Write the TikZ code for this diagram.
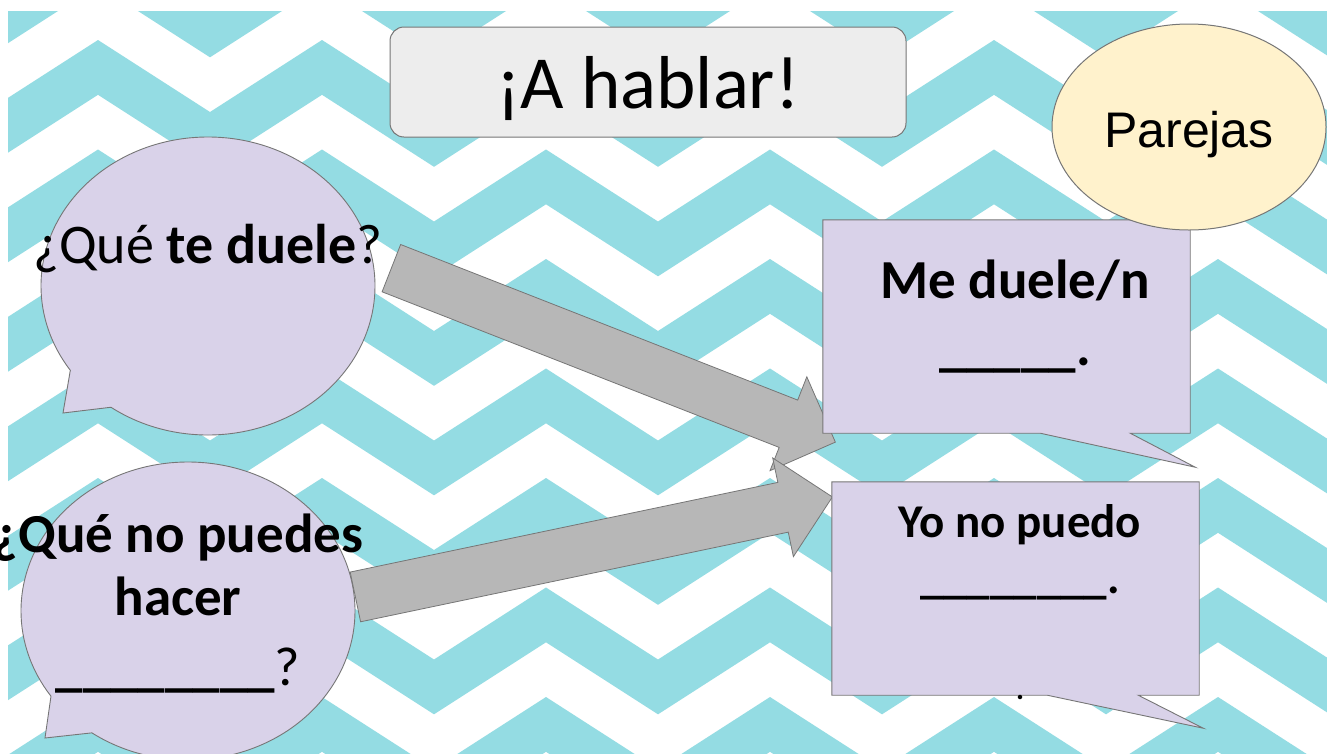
\documentclass[tikz,border=0pt]{standalone}
\usepackage{fontspec}
\setmainfont{Carlito}
\newfontfamily\arialfont{Liberation Sans}
\usetikzlibrary{positioning,calc,shapes.geometric,shapes.arrows,shapes.callouts}
\definecolor{cteal}{RGB}{148,220,227}
\definecolor{clav}{RGB}{217,210,233}
\definecolor{cyell}{RGB}{255,242,204}
\definecolor{cpanel}{RGB}{237,237,237}
\definecolor{carrow}{RGB}{183,183,183}
\definecolor{cedge}{RGB}{118,118,118}

% block arrow from one named point to another
\newcommand{\blockarrow}[2]{%
  \path let \p1=($(#2)-(#1)$), \n1={atan2(\y1,\x1)}, \n2={veclen(\x1,\y1)} in
    node[bigarrow, rotate=\n1, minimum height=\n2, anchor=tail] (#1-#2) at (#1) {};}

\begin{document}
\begin{tikzpicture}[x=1pt, y=-1pt,
    chevron/.style={draw=cteal, line width=46.1pt, line join=miter, miter limit=4},
    titlebox/.style={draw=cedge, fill=cpanel, rounded corners=14pt, line width=1pt,
                     minimum width=516pt, minimum height=110pt, font=\fontsize{75}{80}\selectfont},
    pairs/.style={ellipse, draw=cedge, fill=cyell, line width=1pt, inner sep=0pt,
                  minimum width=274pt, minimum height=206pt, font=\arialfont\fontsize{50}{55}\selectfont},
    bubble/.style={ellipse callout, draw=cedge, fill=clav, line width=0.9pt, inner sep=0pt,
                   minimum width=334pt, minimum height=298pt, callout pointer arc=20},
    boxarea/.style={minimum width=367pt, minimum height=213pt, inner sep=0pt},
    boxcall/.style={draw=cedge, fill=clav, line width=0.9pt},
    bigarrow/.style={single arrow, draw=cedge, fill=carrow, line width=0.8pt, inner xsep=0pt,
                     inner ysep=25pt, minimum width=100pt, single arrow head extend=25pt,
                     single arrow tip angle=90},
    qtext/.style={font=\fontsize{56}{66}\selectfont, inner sep=0pt, anchor=base},
    qbold/.style={font=\fontsize{55}{66}\selectfont\bfseries, inner sep=0pt, anchor=base},
    sbold/.style={font=\fontsize{47}{56}\selectfont\bfseries, inner sep=0pt, anchor=base}
  ]
  \useasboundingbox (0,0) rectangle (1327,753);

  % Background
  \fill[white] (0,0) rectangle (1327,753);
  \begin{scope}
    \clip (8,11) rectangle (1327,753);
    \foreach \k in {-1,...,6}
      \draw[chevron] (-126,{67.4+109.5*\k})
        foreach \j in {1,...,15} { -- ({-126+112*\j},{67.4+109.5*\k+72*mod(\j,2)}) };
  \end{scope}

  % Title
  \node[titlebox, text height=64pt, text depth=12pt] (title) at (648,82) {¡A hablar!};

  % Questions
  \node[bubble, callout absolute pointer={(63,413)}] (hurt) at (208,286) {};
  \node[qtext] (hurtq) at (208,263) {¿Qué \textbf{te duele}?};

  \node[bubble, callout absolute pointer={(45,738)}] (cant) at (188,611) {};
  \node[qbold] (cant1) at (178,552) {¿Qué no puedes};
  \node[qbold, below=63pt of cant1.base, anchor=base] (cant2) {hacer};
  \node[qbold, below=70pt of cant2.base, anchor=base] (cant3) {\_\_\_\_\_\_\_\_\textmd{?}};

  % Arrows
  \coordinate (a1s) at (391,268);
  \coordinate (a1e) at (835,442);
  \coordinate (a2s) at (355,597);
  \coordinate (a2e) at (832,497);
  \blockarrow{a1s}{a1e}
  \blockarrow{a2s}{a2e}

  % Answers
  \node[boxarea] (ache) at (1006.5,326.5) {};
  \draw[boxcall] (ache.north west) -- (ache.north east) -- (ache.south east)
    -- ([xshift=-60pt]ache.south east) -- ([shift={(5,34)}]ache.south east)
    -- ([xshift=-150pt]ache.south east) -- (ache.south west) -- cycle;
  \node[qbold] (ache1) at (1015,298) {Me duele/n};
  \node[qbold, below=67pt of ache1.base, anchor=base] (ache2) {\_\_\_\_\_.};

  \node[boxarea] (can) at (1015.5,588.5) {};
  \draw[boxcall] (can.north west) -- (can.north east) -- (can.south east)
    -- ([xshift=-61pt]can.south east) -- ([shift={(4,33)}]can.south east)
    -- ([xshift=-152pt]can.south east) -- (can.south west) -- cycle;
  \node[sbold] (can1) at (1020,537) {Yo no puedo};
  \node[sbold, below=56pt of can1.base, anchor=base] (can2) {\_\_\_\_\_\_\_\_.};
  \node[sbold, font=\fontsize{30}{30}\selectfont\bfseries] (can3) at (1020,699) {.};

  % Pairs
  \node[pairs, text height=40pt, text depth=0pt] (pairs) at (1189,127) {Parejas};
\end{tikzpicture}
\end{document}
